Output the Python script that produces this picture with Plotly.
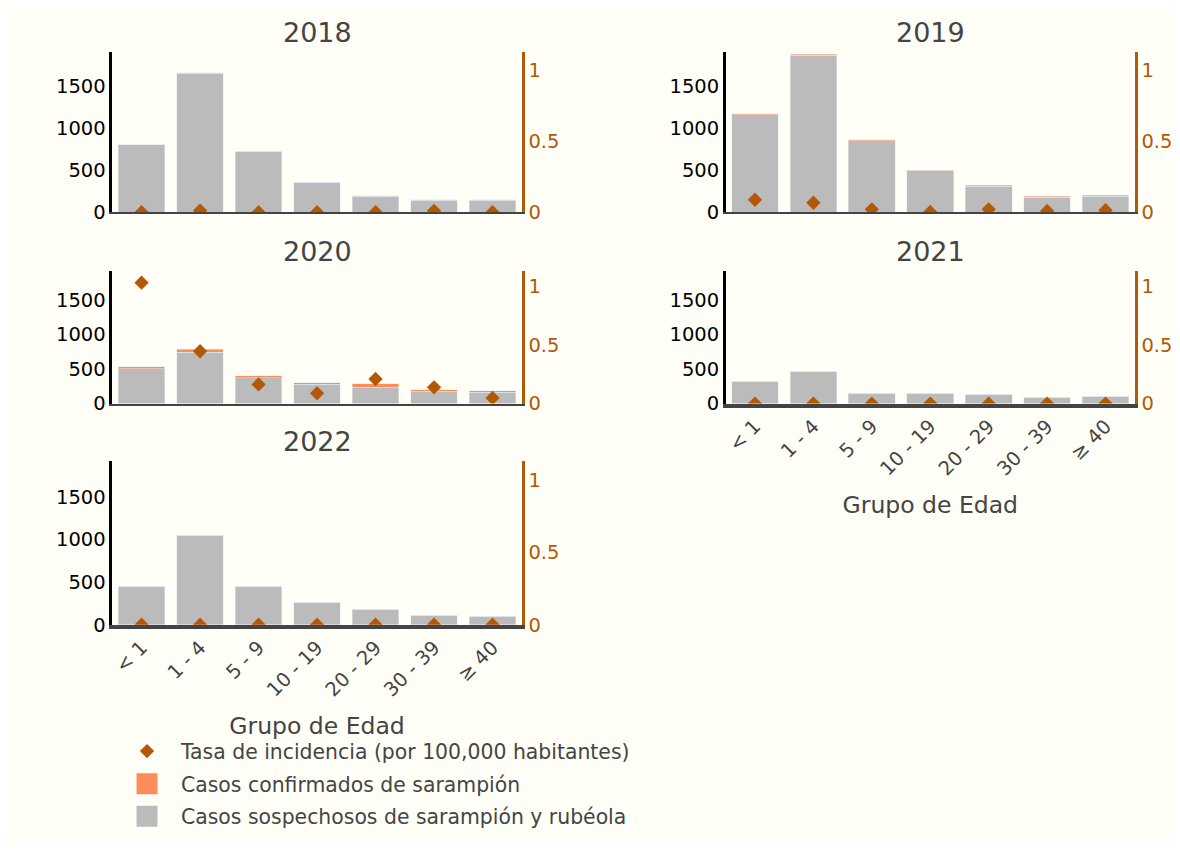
import plotly.graph_objects as go

categories = ["< 1", "1 - 4", "5 - 9", "10 - 19", "20 - 29", "30 - 39", "≥ 40"]
years = ["2018", "2019", "2020", "2021", "2022"]

suspected_2018 = [808, 1658, 728, 360, 190, 142, 142]
confirmed_2018 = [0, 8, 0, 0, 6, 5, 5]
rate_2018 = [0.0, 0.012, 0.0, 0.0, 0.0, 0.01, 0.0]

suspected_2019 = [1164, 1876, 856, 493, 310, 181, 193]
confirmed_2019 = [12, 12, 12, 8, 12, 12, 12]
rate_2019 = [0.088, 0.067, 0.021, 0.002, 0.021, 0.009, 0.014]

suspected_2020 = [505, 743, 376, 276, 233, 176, 162]
confirmed_2020 = [28, 43, 29, 24, 53, 24, 24]
rate_2020 = [1.029, 0.445, 0.163, 0.087, 0.209, 0.138, 0.048]

suspected_2021 = [322, 466, 149, 149, 134, 91, 105]
confirmed_2021 = [0, 0, 0, 0, 0, 0, 0]
rate_2021 = [0.0, 0.0, 0.0, 0.0, 0.0, 0.0, 0.0]

suspected_2022 = [450, 1050, 450, 262, 180, 110, 98]
confirmed_2022 = [0, 0, 0, 0, 0, 0, 0]
rate_2022 = [0.0, 0.0, 0.0, 0.0, 0.0, 0.0, 0.0]

suspected = [suspected_2018, suspected_2019, suspected_2020, suspected_2021, suspected_2022]
confirmed = [confirmed_2018, confirmed_2019, confirmed_2020, confirmed_2021, confirmed_2022]
rates = [rate_2018, rate_2019, rate_2020, rate_2021, rate_2022]

name_rate = "Tasa de incidencia (por 100,000 habitantes)"
name_conf = "Casos confirmados de sarampión"
name_susp = "Casos sospechosos de sarampión y rubéola"

GRAY = "#bbbbbb"
ORANGE = "#fc8d59"
BROWN = "#b35806"
BG = "#fffff7"
FONT = "DejaVu Sans, Verdana, sans-serif"

col_x = [[0.0893, 0.4432], [0.6195, 0.9730]]
row_y = [[0.7515, 0.9467], [0.5188, 0.6800], [0.2497, 0.4485]]
pos = [(0, 0), (0, 1), (1, 0), (1, 1), (2, 0)]
show_xlabels = [False, False, False, True, True]

fig = go.Figure()
layout = dict(
    paper_bgcolor=BG,
    plot_bgcolor=BG,
    barmode="stack",
    bargap=0.2,
    margin=dict(l=0, r=0, t=0, b=0),
    font=dict(family=FONT, size=19.5, color="#444"),
    legend=dict(x=0.0899, y=0.1200, xanchor="left", yanchor="top",
                font=dict(size=20.4, color="#444"), bgcolor="rgba(0,0,0,0)",
                traceorder="grouped", tracegroupgap=3, itemwidth=58),
    annotations=[],
)

for i, yr in enumerate(years):
    r, c = pos[i]
    xa = "x" if i == 0 else f"x{i+1}"
    ya_n = 2 * i + 1
    yb_n = 2 * i + 2
    ya = "y" if ya_n == 1 else f"y{ya_n}"
    yb = f"y{yb_n}"
    fig.add_trace(go.Bar(x=categories, y=suspected[i], name=name_susp, marker_color=GRAY,
                         xaxis=xa, yaxis=ya, showlegend=False))
    fig.add_trace(go.Bar(x=categories, y=confirmed[i], name=name_conf, marker_color=ORANGE,
                         xaxis=xa, yaxis=ya, showlegend=False))
    fig.add_trace(go.Scatter(x=categories, y=rates[i], name=name_rate, mode="markers",
                             marker=dict(symbol="diamond", size=11, color=BROWN),
                             xaxis=xa, yaxis=yb, showlegend=False))

    xkey = "xaxis" if i == 0 else f"xaxis{i+1}"
    ykey_a = "yaxis" if ya_n == 1 else f"yaxis{ya_n}"
    ykey_b = f"yaxis{yb_n}"
    layout[xkey] = dict(
        domain=col_x[c], anchor=ya, showline=True, linecolor="#444",
        linewidth=3.5 if show_xlabels[i] else 2,
        showticklabels=show_xlabels[i], tickangle=-45, ticks="",
        tickfont=dict(size=19.5, color="#444"), showgrid=False, zeroline=False,
        title=dict(text="Grupo de Edad" if show_xlabels[i] else "", standoff=18,
                   font=dict(size=23.5, color="#444")),
    )
    layout[ykey_a] = dict(
        domain=row_y[r], anchor=xa, range=[0, 1915], showline=True, linecolor="black",
        linewidth=2.5, tickvals=[0, 500, 1000, 1500], tickfont=dict(size=19.5, color="black"),
        showgrid=False, zeroline=False, ticks="",
    )
    layout[ykey_b] = dict(
        overlaying=ya, anchor=xa, side="right", range=[0, 1.128], showline=True,
        linecolor=BROWN, linewidth=2.5, tickvals=[0, 0.5, 1], ticktext=["0", "0.5", "1"],
        tickfont=dict(size=19.5, color=BROWN), showgrid=False, zeroline=False, ticks="",
    )
    layout["annotations"].append(dict(
        text=yr, x=sum(col_x[c]) / 2, y=row_y[r][1], yshift=2, xref="paper", yref="paper",
        xanchor="center", yanchor="bottom", showarrow=False, font=dict(size=27, color="#444"),
    ))

# legend-only entries
fig.add_trace(go.Scatter(x=[None], y=[None], mode="markers", name=name_rate,
                         marker=dict(symbol="diamond", size=11, color=BROWN),
                         xaxis="x", yaxis="y2", legendgroup="r", showlegend=True))
fig.add_trace(go.Scatter(x=[None], y=[None], mode="markers", name=name_conf,
                         marker=dict(symbol="square", size=16, color=ORANGE,
                                     line=dict(width=5, color=ORANGE)),
                         xaxis="x", yaxis="y", legendgroup="c", showlegend=True))
fig.add_trace(go.Scatter(x=[None], y=[None], mode="markers", name=name_susp,
                         marker=dict(symbol="square", size=16, color=GRAY,
                                     line=dict(width=5, color=GRAY)),
                         xaxis="x", yaxis="y", legendgroup="s", showlegend=True))

fig.update_layout(**layout)
fig.write_html("out.html")
